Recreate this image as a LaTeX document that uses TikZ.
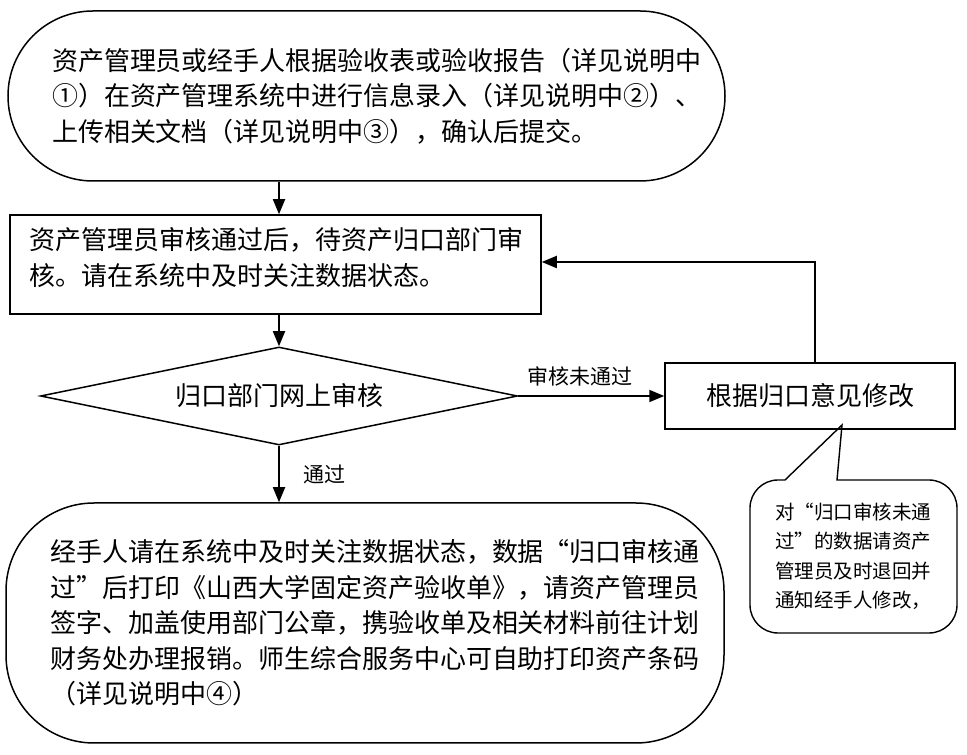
\documentclass[tikz,border=0pt]{standalone}
\usepackage{fontspec}
\setmainfont{Noto Sans CJK SC}
\usetikzlibrary{arrows.meta,shapes.geometric,calc}
\begin{document}
\begin{tikzpicture}[x=1pt,y=1pt,
  box/.style={draw,line width=1.5pt,inner sep=0pt,align=left},
  arr/.style={line width=1.8pt,-{Triangle[length=15pt,width=12pt]}},
  maintext/.style={font=\fontsize{26}{35.5}\selectfont},
  lbl/.style={font=\fontsize{21}{25}\selectfont,inner sep=0pt},
]
\fill[white] (0,0) rectangle (967,755);
\useasboundingbox (0,0) rectangle (967,755);

\node[box,rounded corners=85pt,minimum width=717pt,minimum height=170pt,text width=629pt,maintext] (start) at (366.5,659)
  {资产管理员或经手人根据验收表或验收报告（详见说明中\\①）在资产管理系统中进行信息录入（详见说明中②）、\\上传相关文档（详见说明中③），确认后提交。};

\node[box,minimum width=531pt,minimum height=99pt] (check) at (275.5,490.5) {};
\node[maintext,text width=491pt,align=left,inner sep=0pt] (checktext) at ([yshift=7pt]check.center)
  {资产管理员审核通过后，待资产归口部门审\\核。请在系统中及时关注数据状态。};

\node[box,diamond,shape aspect=4.87,minimum width=477pt,minimum height=98pt,maintext,align=center] (dept) at (279,359)
  {归口部门网上审核};

\node[box,minimum width=290pt,minimum height=66pt,maintext,align=center] (revise) at (810,359)
  {根据归口意见修改};

\node[box,rounded corners=88pt,minimum width=718pt,minimum height=240pt,text width=630pt,maintext] (finish) at (365,132)
  {经手人请在系统中及时关注数据状态，数据“归口审核通\\过”后打印《山西大学固定资产验收单》，请资产管理员\\签字、加盖使用部门公章，携验收单及相关材料前往计划\\财务处办理报销。师生综合服务中心可自助打印资产条码\\（详见说明中④）};

% callout
\coordinate (tip) at (842,330);
\draw[line width=1.4pt] (785,275) -- (tip) -- (837,275) -- (929,275)
  arc[start angle=90,end angle=0,radius=28] -- (957,150)
  arc[start angle=0,end angle=-90,radius=28] -- (778,122)
  arc[start angle=270,end angle=180,radius=28] -- (750,247)
  arc[start angle=180,end angle=90,radius=28] -- cycle;
\node[font=\fontsize{19.5}{29.5}\selectfont,text width=157pt,align=left,inner sep=0pt] (note) at (853.5,198.5)
  {对“归口审核未通\\过”的数据请资产\\管理员及时退回并\\通知经手人修改，};

% connectors
\draw[arr] (start.south -| dept.north) -- (check.north -| dept.north);
\draw[arr] (check.south -| dept.north) -- (dept.north);
\draw[arr] (dept.east) -- node[lbl,pos=0.42,above=9pt] (nolbl) {审核未通过} (revise.west);
\draw[arr] (dept.south) -- node[lbl,pos=0.5,right=24pt] (oklbl) {通过} (finish.north -| dept.south);
\draw[arr] ([xshift=5pt]revise.north) |- ([yshift=2.5pt]check.east);
\end{tikzpicture}
\end{document}
